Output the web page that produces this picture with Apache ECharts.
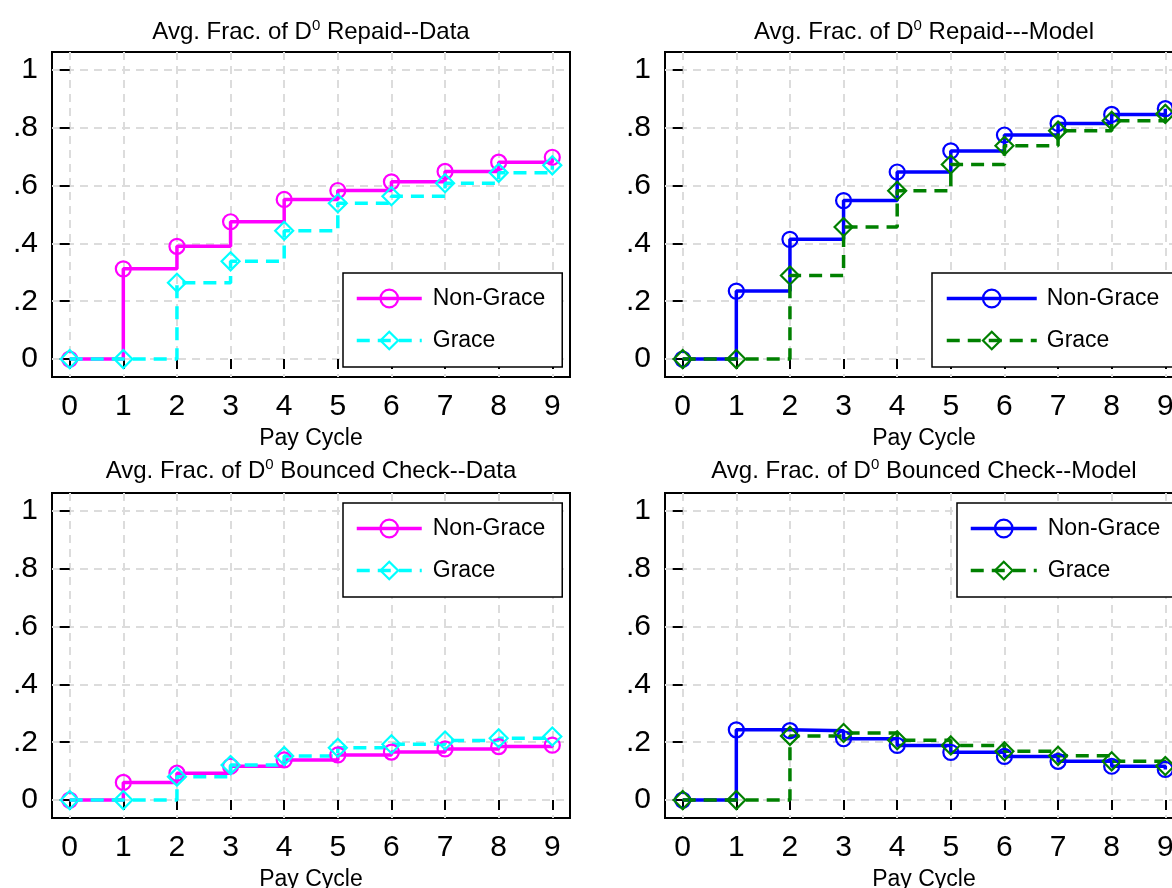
<!DOCTYPE html>
<html>
<head>
<meta charset="utf-8">
<script src="https://cdn.jsdelivr.net/npm/echarts@6/dist/echarts.min.js"></script>
<style>
  html, body { margin: 0; padding: 0; background: #fff; }
  #wrap { position: relative; width: 1172px; height: 888px; overflow: hidden; background: #fff; }
  .panel { position: absolute; width: 586px; height: 470px; }
</style>
</head>
<body>
<div id="wrap">
  <div class="panel" id="repaidData" style="left:0;top:0"></div>
  <div class="panel" id="repaidModel" style="left:586px;top:0"></div>
  <div class="panel" id="bouncedData" style="left:0;top:444px;height:444px"></div>
  <div class="panel" id="bouncedModel" style="left:586px;top:444px;height:444px"></div>
</div>
<script>
'use strict';

var cycles = [0, 1, 2, 3, 4, 5, 6, 7, 8, 9];
var yTicks = [0, 0.2, 0.4, 0.6, 0.8, 1];

var repaidDataNonGrace = [0, 0.312, 0.390, 0.475, 0.552, 0.583, 0.613, 0.649, 0.681, 0.698];
var repaidDataGrace = [0, 0, 0.264, 0.338, 0.444, 0.539, 0.563, 0.608, 0.644, 0.670];
var repaidModelNonGrace = [0, 0.235, 0.414, 0.548, 0.647, 0.720, 0.775, 0.815, 0.846, 0.866];
var repaidModelGrace = [0, 0, 0.289, 0.457, 0.582, 0.673, 0.738, 0.790, 0.824, 0.848];
var bouncedDataNonGrace = [0, 0.061, 0.093, 0.117, 0.139, 0.156, 0.166, 0.177, 0.185, 0.190];
var bouncedDataGrace = [0, 0, 0.081, 0.121, 0.152, 0.181, 0.193, 0.206, 0.214, 0.220];
var bouncedModelNonGrace = [0, 0.243, 0.240, 0.212, 0.189, 0.165, 0.151, 0.134, 0.117, 0.106];
var bouncedModelGrace = [0, 0, 0.222, 0.232, 0.207, 0.189, 0.169, 0.153, 0.134, 0.118];

var FONT = '"Liberation Sans", Arial, Helvetica, sans-serif';

function pairs(values) {
    return cycles.map(function (c, i) {
        return [c, values[i]];
    });
}

function yLabel(v) {
    if (v === 0) return '0';
    if (v === 1) return '1';
    return String(Math.round(v * 10) / 10).replace('0.', '.');
}

function setupPanel(domId, cfg) {
    var chart = echarts.init(document.getElementById(domId));
    var grid = { left: cfg.gridLeft, top: cfg.gridTop, width: 518, height: 325 };

    var lineNG = { color: cfg.colorNG, width: 3.5, type: 'solid' };
    var lineG = { color: cfg.colorG, width: 3.5, type: [13, 8] };
    var markNG = { color: 'transparent', borderColor: cfg.colorNG, borderWidth: 2.2 };
    var markG = { color: 'transparent', borderColor: cfg.colorG, borderWidth: 2.2 };

    var options = {
        animation: false,
        backgroundColor: 'transparent',
        graphic: [{
            type: 'text',
            x: grid.left + grid.width / 2,
            y: cfg.titleY,
            style: {
                text: '{a|Avg. Frac. of D}{s|0}{a| ' + cfg.title + '}',
                align: 'center',
                verticalAlign: 'middle',
                rich: {
                    a: { fontFamily: FONT, fontSize: 24, fill: '#000', lineHeight: 28 },
                    s: { fontFamily: FONT, fontSize: 15, fill: '#000', verticalAlign: 'top', lineHeight: 15 }
                }
            }
        }],
        grid: {
            left: grid.left,
            top: grid.top,
            width: grid.width,
            height: grid.height,
            show: true,
            borderColor: '#000',
            borderWidth: 2,
            backgroundColor: '#fff',
            outerBoundsMode: 'none'
        },
        legend: {
            orient: 'vertical',
            left: cfg.legendLeft,
            top: cfg.legendTop,
            padding: [14, 17, 15, cfg.legendPadLeft],
            itemWidth: cfg.legendLine,
            itemHeight: 22,
            itemGap: 19,
            borderColor: '#000',
            borderWidth: 1.5,
            backgroundColor: '#fff',
            selectedMode: false,
            textStyle: { fontFamily: FONT, fontSize: 23, color: '#000', padding: [0, 0, 0, cfg.legendTextGap] },
            data: [
                { name: 'Non-Grace', itemStyle: markNG, lineStyle: lineNG },
                { name: 'Grace', itemStyle: markG, lineStyle: lineG }
            ]
        },
        xAxis: {
            type: 'value',
            min: -0.33,
            max: 9.33,
            name: 'Pay Cycle',
            nameLocation: 'middle',
            nameGap: 49,
            nameTextStyle: { fontFamily: FONT, fontSize: 23, color: '#000' },
            axisLine: { show: false },
            axisTick: { show: true, length: 10, lineStyle: { color: '#000', width: 2 }, customValues: cycles },
            axisLabel: { customValues: cycles, fontFamily: FONT, fontSize: 30, color: '#000', margin: 15 },
            splitLine: { show: true, lineStyle: { color: '#dcdcdc', width: 2, type: [8, 6] } }
        },
        yAxis: {
            type: 'value',
            min: -0.062,
            max: 1.062,
            axisLine: { show: false },
            axisTick: { show: true, length: 10, lineStyle: { color: '#000', width: 2 }, customValues: yTicks },
            axisLabel: {
                customValues: yTicks,
                fontFamily: FONT,
                fontSize: 30,
                color: '#000',
                margin: 14,
                formatter: yLabel
            },
            splitLine: { show: true, lineStyle: { color: '#dcdcdc', width: 2, type: [8, 6] } }
        },
        series: [
            {
                name: 'Non-Grace',
                type: 'line',
                step: 'end',
                data: pairs(cfg.nonGrace),
                symbol: 'circle',
                symbolSize: 15,
                showAllSymbol: true,
                lineStyle: lineNG,
                itemStyle: markNG
            },
            {
                name: 'Grace',
                type: 'line',
                step: 'end',
                data: pairs(cfg.grace),
                symbol: 'diamond',
                symbolSize: 18,
                showAllSymbol: true,
                lineStyle: lineG,
                itemStyle: markG
            }
        ]
    };
    chart.setOption(options);
    return chart;
}

setupPanel('repaidData', {
    title: 'Repaid--Data', titleY: 32, gridLeft: 52, gridTop: 52,
    nonGrace: repaidDataNonGrace, grace: repaidDataGrace,
    colorNG: '#ff00ff', colorG: '#00ffff',
    legendLeft: 343, legendTop: 273, legendPadLeft: 12, legendLine: 65, legendTextGap: 6
});

setupPanel('repaidModel', {
    title: 'Repaid---Model', titleY: 32, gridLeft: 79, gridTop: 52,
    nonGrace: repaidModelNonGrace, grace: repaidModelGrace,
    colorNG: '#0000ff', colorG: '#008000',
    legendLeft: 346, legendTop: 273, legendPadLeft: 13, legendLine: 90, legendTextGap: 5
});

setupPanel('bouncedData', {
    title: 'Bounced Check--Data', titleY: 27, gridLeft: 52, gridTop: 49,
    nonGrace: bouncedDataNonGrace, grace: bouncedDataGrace,
    colorNG: '#ff00ff', colorG: '#00ffff',
    legendLeft: 343, legendTop: 59, legendPadLeft: 12, legendLine: 65, legendTextGap: 6
});

setupPanel('bouncedModel', {
    title: 'Bounced Check--Model', titleY: 27, gridLeft: 79, gridTop: 49,
    nonGrace: bouncedModelNonGrace, grace: bouncedModelGrace,
    colorNG: '#0000ff', colorG: '#008000',
    legendLeft: 371, legendTop: 59, legendPadLeft: 12, legendLine: 66, legendTextGap: 6
});
</script>
</body>
</html>
